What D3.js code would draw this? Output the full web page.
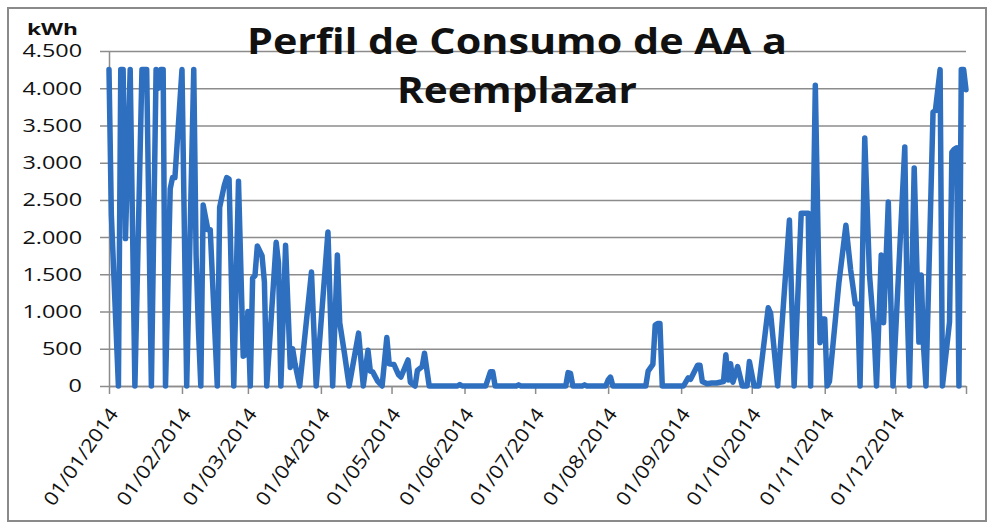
<!DOCTYPE html>
<html>
<head>
<meta charset="utf-8">
<script src="https://cdn.jsdelivr.net/npm/d3@7"></script>
<style>
  body { margin: 0; background: #fff; }
  svg { display: block; }
  text { font-family: "Open Sans", sans-serif; fill: #111; }
</style>
</head>
<body>
<svg id="chart" width="991" height="524"></svg>
<script>
// ====== datos (vértices de la serie diaria) ======
const fechas = [
  '01/01','02/01','05/01','06/01','07/01','08/01','10/01','12/01','15/01','17/01',
  '19/01','21/01','22/01','23/01','24/01','25/01','27/01','28/01','29/01','01/02',
  '03/02','06/02','07/02','08/02','09/02','10/02','12/02','13/02','16/02','17/02',
  '19/02','20/02','21/02','23/02','25/02','27/02','28/02','01/03','02/03','03/03',
  '04/03','05/03','07/03','08/03','09/03','13/03','14/03','15/03','17/03','19/03',
  '20/03','21/03','23/03','28/03','30/03','04/04','06/04','08/04','09/04','11/04',
  '13/04','17/04','19/04','21/04','22/04','23/04','25/04','27/04','29/04','30/04',
  '02/05','04/05','05/05','08/05','09/05','11/05','12/05','14/05','15/05','17/05',
  '29/05','30/05','31/05','10/06','12/06','13/06','14/06','23/06','24/06','25/06',
  '14/07','15/07','16/07','17/07','21/07','22/07','23/07','31/07','01/08','02/08',
  '03/08','17/08','18/08','20/08','21/08','22/08','23/08','24/08','02/09','04/09',
  '05/09','08/09','09/09','10/09','12/09','14/09','16/09','19/09','20/09','21/09',
  '22/09','23/09','25/09','27/09','29/09','30/09','02/10','04/10','08/10','09/10',
  '12/10','17/10','19/10','22/10','25/10','26/10','28/10','30/10','31/10','01/11',
  '02/11','03/11','07/11','10/11','12/11','14/11','15/11','16/11','18/11','20/11',
  '22/11','23/11','25/11','26/11','28/11','30/11','05/12','06/12','07/12','09/12',
  '11/12','12/12','13/12','14/12','17/12','18/12','20/12','21/12','24/12','25/12',
  '26/12','27/12','28/12','29/12','30/12','31/12'
];

const consumo = [
  4250, 2300, 0, 4250, 4250, 1980, 4250, 0, 4250, 4250,
  0, 4250, 4000, 4250, 4250, 0, 2650, 2800, 2800, 4250,
  0, 4250, 1750, 750, 0, 2430, 2100, 2100, 0, 2400,
  2700, 2800, 2780, 0, 2750, 400, 420, 1000, 0, 1450,
  1480, 1880, 1750, 1400, 0, 1930, 1650, 0, 1890, 250,
  500, 300, 0, 1530, 0, 2070, 0, 1760, 850, 440,
  0, 710, 0, 480, 200, 190, 70, 0, 650, 300,
  290, 150, 120, 350, 50, 0, 210, 260, 440, 0,
  0, 20, 0, 0, 190, 190, 0, 0, 15, 0,
  0, 180, 170, 0, 0, 15, 0, 0, 80, 120,
  0, 0, 200, 290, 820, 840, 840, 0, 0, 110,
  90, 280, 280, 60, 30, 40, 40, 60, 420, 80,
  300, 50, 260, 0, 0, 330, 0, 0, 1050, 980,
  0, 2230, 0, 2320, 2320, 0, 4040, 580, 900, 900,
  0, 60, 1380, 2160, 1560, 1100, 1100, 0, 3330, 1500,
  700, 0, 1760, 850, 2470, 0, 3210, 1100, 0, 2930,
  590, 1490, 510, 0, 3680, 3700, 4250, 0, 860, 3140,
  3180, 3200, 0, 4250, 4250, 3980
];

const yTicks = [0, 500, 1000, 1500, 2000, 2500, 3000, 3500, 4000, 4500];
const meses = [
  '01/01/2014', '01/02/2014', '01/03/2014', '01/04/2014', '01/05/2014', '01/06/2014',
  '01/07/2014', '01/08/2014', '01/09/2014', '01/10/2014', '01/11/2014', '01/12/2014'
];
const ultimoDia = '31/12/2014';

const titulo = ['Perfil de Consumo de AA a', 'Reemplazar'];
const unidad = 'kWh';

// ====== escalas ======
const parse = d3.timeParse('%d/%m/%Y');
const datos = fechas.map((f, i) => ({ fecha: parse(f + '/2014'), valor: consumo[i] }));

const plotLeft = 109, plotRight = 966, plotTop = 51, plotBottom = 386;
const x = d3.scaleTime().domain([parse(meses[0]), parse(ultimoDia)]).range([plotLeft, plotRight]);
const y = d3.scaleLinear().domain([0, 4500]).range([plotBottom, plotTop]);

const es = d3.formatLocale({ decimal: ',', thousands: '.', grouping: [3], currency: ['', ''] });
const fmt = es.format(',');

const svg = d3.select('#chart');

// marco exterior
svg.append('rect')
  .attr('x', 8).attr('y', 8).attr('width', 978).attr('height', 513)
  .attr('fill', '#fff').attr('stroke', '#8a8a8a').attr('stroke-width', 2);

// ====== eje Y + rejilla ======
const yAxis = svg.append('g')
  .attr('transform', `translate(${plotLeft},0)`)
  .call(d3.axisLeft(y).tickValues(yTicks).tickSizeInner(-(plotRight - plotLeft)).tickSizeOuter(0).tickFormat(''));
yAxis.selectAll('.tick line')
  .attr('x1', -9)
  .attr('stroke', '#8c8c8c').attr('stroke-width', 1.5);
yAxis.select('.domain').attr('stroke', '#8c8c8c').attr('stroke-width', 1.5);

svg.append('g').selectAll('text')
  .data(yTicks)
  .join('text')
  .attr('transform', (d) => `translate(82,${y(d)}) scale(1.3,1)`)
  .attr('dy', '0.36em')
  .attr('text-anchor', 'end')
  .style('font-size', '18px')
  .text((d) => fmt(d));

// ====== eje X ======
const xTicks = meses.map(parse).concat([parse(ultimoDia)]);
const xAxis = svg.append('g')
  .attr('transform', `translate(0,${plotBottom})`)
  .call(d3.axisBottom(x).tickValues(xTicks).tickSizeInner(8).tickSizeOuter(0)
    .tickFormat((d, i) => (i < meses.length ? meses[i] : '')));
xAxis.select('.domain').attr('stroke', '#8c8c8c').attr('stroke-width', 1.5);
xAxis.selectAll('.tick line').attr('stroke', '#8c8c8c').attr('stroke-width', 1.5);
xAxis.selectAll('.tick text')
  .attr('x', 0).attr('y', 0).attr('dy', '0.35em')
  .attr('transform', 'translate(4,24) rotate(-55)')
  .attr('text-anchor', 'end')
  .attr('textLength', 114)
  .attr('lengthAdjust', 'spacingAndGlyphs')
  .style('font-size', '19px')
  .style('font-family', '"Open Sans", sans-serif')
  .attr('fill', '#111');

// ====== serie ======
const line = d3.line()
  .x((d) => x(d.fecha))
  .y((d) => y(d.valor));

svg.append('path')
  .datum(datos)
  .attr('d', line)
  .attr('fill', 'none')
  .attr('stroke', '#2f6fbf')
  .attr('stroke-width', 5.5)
  .attr('stroke-linejoin', 'round')
  .attr('stroke-linecap', 'round');

// ====== títulos ======
svg.append('text')
  .attr('x', 27).attr('y', 35)
  .style('font-size', '16px').style('font-weight', 700)
  .attr('textLength', 51).attr('lengthAdjust', 'spacingAndGlyphs')
  .text(unidad);

const anchoTitulo = [540, 240];
const baseTitulo = [54, 103];
svg.append('g').selectAll('text')
  .data(titulo)
  .join('text')
  .attr('x', (d, i) => 517 - anchoTitulo[i] / 2)
  .attr('y', (d, i) => baseTitulo[i])
  .attr('textLength', (d, i) => anchoTitulo[i])
  .attr('lengthAdjust', 'spacingAndGlyphs')
  .style('font-size', '36px')
  .style('font-weight', 700)
  .text((d) => d);
</script>
</body>
</html>
